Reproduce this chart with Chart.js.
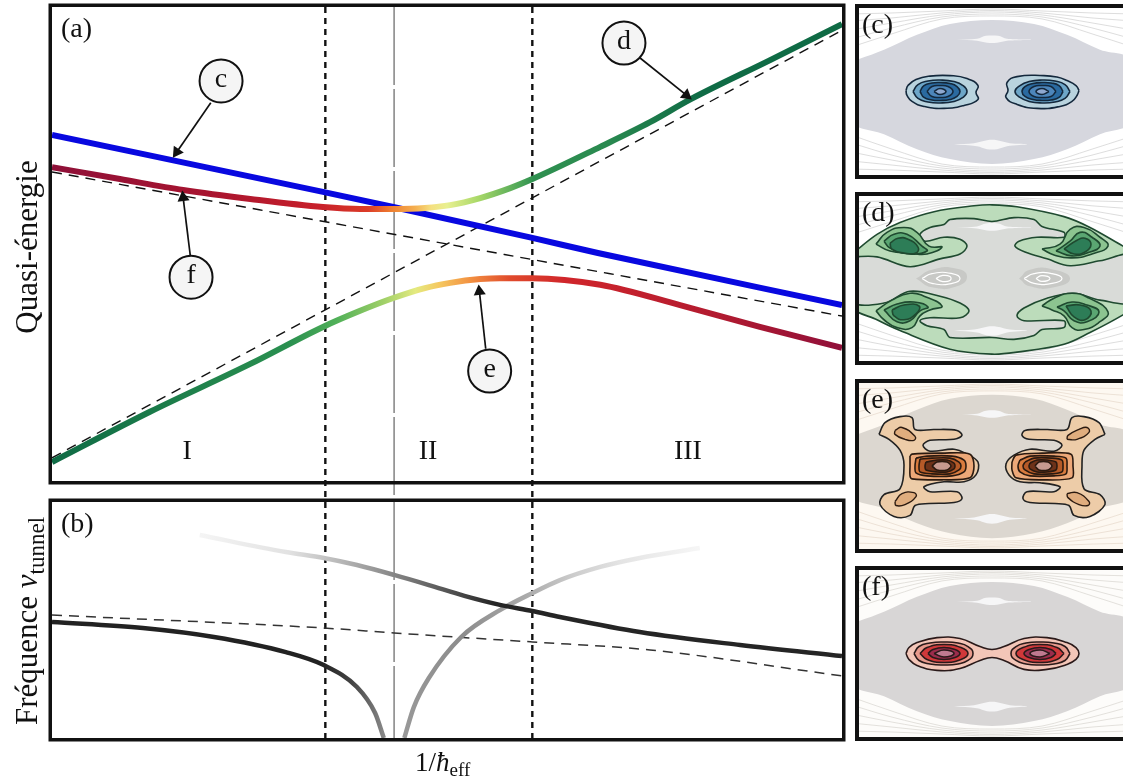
<!DOCTYPE html>
<html lang="fr">
<head>
    <meta charset="UTF-8">
    <title>Quasi-énergie et fréquence tunnel</title>
    <script src="https://cdn.jsdelivr.net/npm/chart.js"></script>
    <style>
        html, body { margin: 0; background: #fff; overflow: hidden; }
        canvas { position: absolute; }
        #chartA { left: 0; top: 0; }
        #chartB { left: 0; top: 490px; }
        #panelC { left: 853px; top: 2px; }
        #panelD { left: 853px; top: 190px; }
        #panelE { left: 853px; top: 377px; }
        #panelF { left: 853px; top: 564px; }
    </style>
</head>
<body>
    <canvas id="chartA" width="853" height="500"></canvas>
    <canvas id="chartB" width="853" height="292"></canvas>
    <canvas id="panelC" width="270" height="178"></canvas>
    <canvas id="panelD" width="270" height="177"></canvas>
    <canvas id="panelE" width="270" height="178"></canvas>
    <canvas id="panelF" width="270" height="179"></canvas>

    <script>
        // Panel (a): 1/hbar on 0-100, quasi-energy on 0-100
        const upperCurve = [[0,66.2],[8.6,63.7],[16.6,61.4],[25.1,59.5],[34.3,57.8],[39,57.4],[43.2,57.4],[47.2,57.6],[50.4,58.2],[54.2,59.7],[58,61.8],[60.8,63.7],[69.4,70.5],[75.7,75.7],[80.8,80.5],[90.9,88.8],[100,96.4]];
        const lowerCurve = [[0,4],[12.4,14.6],[25.1,24.7],[34.3,32.5],[39,35.9],[43.2,38.6],[47.2,40.7],[50.4,41.8],[54.2,42.6],[56.7,42.8],[60.8,42.8],[69.4,41.4],[79.5,37.1],[89.6,32.5],[100,28.1]];
        const blueLine = [[0,73],[34.3,61],[43.2,57.8],[60.8,51.3],[69.1,48.1],[100,37.1]];
        const diabaticDown = [[0,65.2],[100,34.8]];
        const diabaticUp = [[0,4.9],[100,95.1]];
        const regionEdges = [34.6, 60.8];
        const centerLine = 43.3;
        const regionNames = ['I', 'II', 'III'];
        const regionCenters = [17.1, 47.6, 80.5];
        const upperStops = [[0,'#8e1038'],[20,'#a8142f'],[34,'#c8202a'],[40,'#dc3c28'],[43,'#ef7f30'],[46,'#f5b050'],[48,'#f5e080'],[50,'#e8f090'],[54,'#a8d868'],[59,'#50a858'],[61,'#2f9050'],[70,'#2a8a50'],[82,'#0f6b45'],[100,'#0f6b45']];
        const lowerStops = [[0,'#0f6b45'],[30,'#2a9050'],[36,'#50b058'],[42,'#a0d068'],[46,'#e4ea80'],[49,'#f5c860'],[53,'#f29040'],[58,'#e04a2c'],[65,'#d0252b'],[85,'#b01a30'],[100,'#90103a']];

        // callouts: letter, circle centre, arrow tip
        const calloutNames = ['c', 'd', 'e', 'f'];
        const calloutCircles = [[21.4,84.4],[72.4,92.4],[55.4,23.2],[17.6,43.0]];
        const calloutTails = [[20.1,79.8],[74.4,89.3],[54.9,27.9],[17.5,47.6]];
        const calloutTips = [[15.8,69.4],[80.3,81.4],[54.1,40],[16.6,59.8]];

        // Panel (b)
        const leftBranch = [[0,49.2],[11.5,46.6],[20.5,42.8],[29.6,36.4],[34.4,30.9],[38.6,21.6],[40.9,10.6],[42,0]];
        const risingBranch = [[44.6,0],[45.8,13.1],[47.7,25.4],[51.8,42.8],[56.7,54.2],[60.8,61.4],[64.3,66.9],[69.4,72.5],[74.4,76.3],[82,80.5]];
        const fallingBranch = [[18.7,86],[29.6,78.8],[34.4,76.3],[38.6,73.3],[43.3,69.1],[47.7,64.8],[52.2,60.2],[56.7,56.4],[60.8,53.8],[64.3,51.3],[74.4,44.9],[87.1,39.4],[100,34.7]];
        const dashedFrequency = [[0,52.1],[34.4,46.6],[43.3,44.5],[60.8,40.7],[75.7,37.3],[100,26.3]];
        const leftStops = [[0,'#222'],[34,'#222'],[38,'#444'],[41,'#777'],[42,'#888']];
        const risingStops = [[44,'#999'],[52,'#8c8c8c'],[60,'#aaa'],[66,'#ccc'],[72,'#e4e4e4'],[82,'#f6f6f6']];
        const fallingStops = [[18,'#f6f6f6'],[30,'#e2e2e2'],[36,'#bbb'],[43,'#888'],[50,'#555'],[56,'#252525'],[100,'#252525']];

        // Phase-space panels: position and momentum, origin at the centre
        const lens = [[-140,30],[-108,42],[-75,57],[-42,68],[0,72],[42,68],[75,57],[108,42],[140,31],[140,-30],[108,-43],[75,-58],[42,-68],[0,-73],[-42,-68],[-75,-58],[-108,-43],[-140,-30]];
        const wispTop = [[-35,52],[-15,53],[-6,56],[6,56],[15,53],[40,52],[15,51],[5,49],[-5,49],[-15,51]];
        const wispBottom = [[-38,-53],[-18,-52],[-5,-49],[5,-49],[18,-52],[35,-53],[15,-55],[5,-58],[-5,-58],[-15,-55]];
        const orbitsTop = [
            [[-140,45],[-100,58],[-50,73],[0,76],[50,73],[100,58],[140,45]],
            [[-140,53],[-100,64],[-50,75],[0,78],[50,75],[100,64],[140,53]],
            [[-140,62],[-100,69],[-50,77],[0,80],[50,77],[100,69],[140,62]],
            [[-140,71],[-100,74],[-50,79],[0,81.5],[50,79],[100,74],[140,71]],
            [[-140,78],[-100,79],[-50,81],[0,83],[50,81],[100,79],[140,78]]
        ];
        const orbitsBottom = [
            [[-140,-44],[-100,-58],[-50,-73],[0,-76],[50,-73],[100,-58],[140,-45]],
            [[-140,-52],[-100,-64],[-50,-75],[0,-78],[50,-75],[100,-64],[140,-53]],
            [[-140,-61],[-100,-69],[-50,-77],[0,-80],[50,-77],[100,-69],[140,-62]],
            [[-140,-70],[-100,-74],[-50,-79],[0,-81.5],[50,-79],[100,-74],[140,-71]],
            [[-140,-78],[-100,-79],[-50,-81],[0,-83],[50,-81],[100,-79],[140,-78]]
        ];

        // (c) two blue wells, rings from outside to inside
        const cLeft = [
            [[-86,1],[-84,6],[-76,12],[-62,15.5],[-42,16],[-25,13],[-14,6],[-16,-1],[-14,-8],[-28,-14],[-48,-17],[-68,-15],[-80,-10],[-85,-4]],
            [[-79,0],[-74,7],[-64,10.5],[-52,11.5],[-38,10],[-29,6],[-25,0],[-29,-6],[-38,-10],[-52,-11.5],[-64,-10.5],[-74,-7]],
            [[-72,0],[-68,6],[-60,8.5],[-52,9],[-42,8],[-35,5],[-32,0],[-35,-5],[-42,-8],[-52,-9],[-60,-8.5],[-68,-6]],
            [[-65,0],[-60,5],[-52,6],[-44,5],[-39,0],[-44,-5],[-52,-6],[-60,-5]],
            [[-58,0],[-52,3],[-46,0],[-52,-3]]
        ];
        const cRight = [
            [[87,1],[84,6],[75,11],[65,14.5],[52,16],[25,15],[15,9],[16,1],[14,-6],[25,-13],[45,-17],[68,-15],[80,-10],[85,-4]],
            [[78,0],[73,7],[63,10.5],[50,11.5],[37,10],[28,6],[23,0],[28,-6],[37,-10],[50,-11.5],[63,-10.5],[73,-7]],
            [[71,0],[67,6],[59,8.5],[50,9],[41,8],[33,5],[30,0],[33,-5],[41,-8],[50,-9],[59,-8.5],[67,-6]],
            [[64,0],[59,5],[50,6],[42,5],[37,0],[42,-5],[50,-6],[59,-5]],
            [[57,0],[50,3],[44,0],[50,-3]]
        ];
        const cFills = ['#b9d3de', '#6da6c8', '#2a6aa0', '#4d86bb', '#8fa9d0'];

        // (d) green lens with a grey cross inside and four lobes
        const dOuter = [[-140,25],[-115,45],[-92,57],[-58,68],[-18,74],[0,75],[25,73],[72,63],[98,52],[131,33],[140,28],[140,-30],[131,-37],[98,-55],[72,-67],[25,-75],[0,-77],[-42,-72],[-92,-53],[-115,-42],[-140,-28]];
        const dCross = [[-140,22],[-115,22],[-82,12],[-52,20],[-32,25],[-25,33],[-32,40],[-48,42],[-67,38],[-72,45],[-62,52],[-48,55],[-42,60],[-18,61],[0,58],[22,62],[42,60],[50,53],[72,47],[72,42],[45,42],[27,38],[23,33],[33,27],[55,20],[78,13],[108,18],[140,23],[140,-23],[108,-22],[82,-15],[55,-20],[32,-30],[25,-38],[32,-43],[72,-43],[72,-50],[50,-52],[42,-58],[22,-62],[0,-60],[-42,-60],[-48,-52],[-65,-48],[-72,-43],[-62,-40],[-32,-40],[-23,-33],[-32,-25],[-52,-18],[-82,-13],[-108,-25],[-140,-23]];
        const dTopLeft = [
            [[-116,35],[-105,47],[-88,52],[-75,47],[-63,33],[-50,32],[-65,25],[-82,26],[-102,28]],
            [[-108,38],[-98,45],[-85,45],[-70,33],[-65,28],[-82,25],[-102,31]],
            [[-102,36],[-94,41],[-84,40],[-74,32],[-76,26],[-88,26],[-100,30]]
        ];
        const dTopRight = [
            [[50,30],[68,35],[78,50],[92,52],[108,42],[116,33],[100,25],[80,21],[62,24]],
            [[64,28],[78,38],[88,47],[100,42],[108,33],[95,26],[80,23]],
            [[72,30],[85,39],[93,41],[99,35],[93,27],[82,25]]
        ];
        const dBottomLeft = [
            [[-116,-33],[-100,-22],[-82,-15],[-68,-18],[-50,-28],[-62,-32],[-72,-38],[-80,-50],[-95,-50],[-108,-42]],
            [[-108,-32],[-95,-26],[-78,-24],[-64,-29],[-72,-33],[-82,-43],[-95,-44]],
            [[-100,-32],[-88,-27],[-73,-28],[-76,-36],[-88,-42],[-98,-38]]
        ];
        const dBottomRight = [
            [[50,-28],[62,-20],[80,-15],[97,-20],[116,-34],[108,-44],[92,-52],[80,-50],[72,-38],[60,-32]],
            [[65,-29],[80,-24],[95,-27],[107,-34],[95,-44],[82,-43],[72,-33]],
            [[74,-28],[88,-27],[99,-33],[93,-42],[82,-39]]
        ];
        const dFills = ['#8cc490', '#5aa672', '#2d7d57'];
        const dBlobs = [[[-76,0],[-60,9],[-35,10],[-25,2],[-35,-8],[-60,-9]], [[27,0],[38,9],[62,9],[78,0],[62,-9],[38,-8]]];
        const dBlobRings = [
            [[-70,0],[-60,5],[-40,5],[-32,0],[-40,-5],[-60,-5]], [[-56,0],[-50,3],[-42,2],[-42,-2],[-50,-3]],
            [[32,0],[42,5],[60,5],[70,0],[60,-5],[42,-5]], [[44,0],[50,3],[58,0],[50,-3]]
        ];

        // (e) brown butterflies
        const eLeftOutline = [[-113,32],[-107,44],[-92,50],[-80,49],[-77,37],[-58,37],[-35,36],[-30,31],[-38,27],[-62,26],[-69,21],[-62,15],[-38,17],[-25,12],[-14,4],[-16,-9],[-28,-16],[-48,-16],[-68,-21],[-62,-26],[-35,-26],[-30,-33],[-38,-37],[-63,-38],[-77,-40],[-82,-50],[-98,-51],[-112,-39],[-108,-29],[-92,-23],[-88,1],[-92,16],[-103,27]];
        const eRightOutline = [[113,32],[107,44],[92,50],[80,49],[75,37],[55,37],[33,36],[30,31],[37,27],[62,26],[70,21],[62,15],[38,17],[22,11],[14,2],[17,-9],[28,-16],[48,-17],[68,-21],[62,-26],[35,-26],[31,-33],[38,-37],[63,-38],[77,-40],[82,-50],[98,-51],[113,-39],[108,-29],[92,-23],[90,1],[92,16],[103,27]];
        const ePads = [
            [[-97,36],[-90,39],[-77,30],[-78,26],[-87,27],[-97,32]],
            [[75,27],[85,27],[97,34],[95,39],[87,37],[76,31]],
            [[-97,-36],[-90,-28],[-78,-27],[-76,-31],[-87,-39],[-96,-40]],
            [[75,-28],[85,-27],[97,-36],[96,-40],[87,-39],[76,-32]]
        ];
        const eLeft = [
            [[-82,10],[-80,12],[-50,13],[-22,12],[-18,0],[-22,-12],[-50,-14],[-80,-13],[-82,-10],[-82,0]],
            [[-76,8],[-65,10],[-40,10],[-28,6],[-26,0],[-28,-6],[-40,-10],[-65,-10],[-76,-7],[-77,0]],
            [[-72,7],[-60,8],[-42,8],[-33,4],[-31,0],[-33,-4],[-42,-8],[-60,-8],[-72,-6],[-73,0]],
            [[-66,4],[-55,6],[-45,6],[-38,3],[-37,0],[-38,-3],[-45,-6],[-55,-6],[-66,-4],[-67,0]],
            [[-60,0],[-55,4],[-45,4],[-41,0],[-45,-4],[-55,-4]]
        ];
        const eRight = [
            [[20,4],[24,11],[50,13],[79,12],[81,0],[80,-12],[50,-14],[24,-12],[20,-4]],
            [[28,6],[38,10],[62,10],[74,8],[75,0],[74,-8],[62,-10],[38,-10],[28,-6],[26,0]],
            [[33,4],[42,8],[60,8],[70,6],[71,0],[70,-6],[60,-8],[42,-8],[33,-4],[31,0]],
            [[38,3],[45,6],[55,6],[64,4],[65,0],[64,-4],[55,-6],[45,-6],[38,-3],[37,0]],
            [[43,0],[47,4],[56,4],[60,0],[56,-4],[47,-4]]
        ];
        const eFills = ['#eda878', '#d97b3e', '#b55a28', '#6e3219', '#c79a8f'];

        // (f) red dumbbell
        const fOutline = [[-86,0],[-83,6],[-75,11],[-55,16],[-32,15],[-12,7],[0,4],[12,7],[32,15],[55,16],[75,11],[84,6],[87,0],[84,-6],[75,-11],[55,-16],[32,-16],[12,-7],[0,-4],[-12,-7],[-32,-15],[-55,-17],[-75,-12],[-83,-6]];
        const fLeft = [
            [[-78,0],[-73,7],[-62,10.5],[-48,11.5],[-34,10.5],[-24,7],[-19,0],[-24,-7],[-34,-10.5],[-48,-11.5],[-62,-10.5],[-73,-7]],
            [[-72,0],[-65,6],[-48,9],[-31,6],[-24,0],[-31,-6],[-48,-9],[-65,-6]],
            [[-64,0],[-59,4],[-48,6],[-37,4],[-32,0],[-37,-4],[-48,-6],[-59,-4]],
            [[-58,0],[-48,3.5],[-38,0],[-48,-3.5]]
        ];
        const fRight = [
            [[78,0],[73,7],[62,10.5],[48,11.5],[34,10.5],[24,7],[19,0],[24,-7],[34,-10.5],[48,-11.5],[62,-10.5],[73,-7]],
            [[72,0],[65,6],[48,9],[31,6],[24,0],[31,-6],[48,-9],[65,-6]],
            [[64,0],[59,4],[48,6],[37,4],[32,0],[37,-4],[48,-6],[59,-4]],
            [[58,0],[48,3.5],[38,0],[48,-3.5]]
        ];
        const fFills = ['#e89a8c', '#d0383a', '#9c2c4c', '#c07a90'];

        const SERIF = '"Liberation Serif", serif';
        const xy = pts => pts.map(([x, y]) => ({ x, y }));

        // horizontal colour ramp, stops given in x values
        function along(stops) {
            return ctx => {
                const chart = ctx.chart;
                if (!chart.chartArea) return stops[0][1];
                const sx = chart.scales.x;
                const g = chart.ctx.createLinearGradient(sx.left, 0, sx.right, 0);
                stops.forEach(([x, c]) => g.addColorStop((x - sx.min) / (sx.max - sx.min), c));
                return g;
            };
        }

        function curve(pts, color, width, extra) {
            return Object.assign({
                data: xy(pts), showLine: true, borderColor: color, borderWidth: width,
                pointRadius: 0, cubicInterpolationMode: 'monotone', fill: false
            }, extra);
        }

        function ring(pts, fillColor, lineColor, width, tension) {
            return {
                data: xy(pts.concat([pts[0]])), showLine: true, pointRadius: 0, tension: tension || 0.35,
                fill: fillColor ? 'shape' : false, backgroundColor: fillColor || 'transparent',
                borderColor: lineColor || 'transparent', borderWidth: lineColor ? (width || 1.6) : 0
            };
        }

        function wells(rings, fills, line, tension) {
            return rings.map((r, i) => ring(r, fills[i], line, 1.6, tension));
        }

        function background(lensColor, orbitColor) {
            return [
                ring(wispTop, '#f6f6f7'),
                ring(wispBottom, '#f6f6f7'),
                ring(lens, lensColor),
                ...orbitsTop.concat(orbitsBottom).map(o => curve(o, orbitColor, 0.8))
            ];
        }

        // text, frame and paper tint that Chart.js has no option for
        const decorations = {
            id: 'decorations',
            beforeDatasetsDraw(chart, args, opts) {
                if (!opts.paper) return;
                const { ctx, chartArea: a } = chart;
                ctx.fillStyle = opts.paper;
                ctx.fillRect(a.left, a.top, a.width, a.height);
            },
            afterDatasetsDraw(chart, args, opts) {
                const { ctx, chartArea: a } = chart;
                ctx.save();
                ctx.strokeStyle = '#111';
                ctx.lineWidth = opts.frameWidth;
                const o = opts.frameWidth / 2;
                ctx.beginPath();
                if (opts.openRight) {
                    ctx.moveTo(a.right + 5, a.top - o);
                    ctx.lineTo(a.left - o, a.top - o);
                    ctx.lineTo(a.left - o, a.bottom + o);
                    ctx.lineTo(a.right + 5, a.bottom + o);
                } else {
                    ctx.rect(a.left - o, a.top - o, a.width + 2 * o, a.height + 2 * o);
                }
                ctx.stroke();
                ctx.fillStyle = '#111';
                ctx.textBaseline = 'alphabetic';
                ctx.font = '28px ' + SERIF;
                ctx.textAlign = 'left';
                ctx.fillText(opts.label, a.left + opts.labelDx, a.top + opts.labelDy);
                if (opts.after) opts.after(chart, ctx);
                ctx.restore();
            }
        };

        function baseOptions(padding, xRange, yRange, decoration) {
            return {
                responsive: false,
                animation: false,
                events: [],
                layout: { padding, autoPadding: false },
                plugins: { legend: { display: false }, tooltip: { enabled: false }, decorations: decoration },
                scales: {
                    x: { type: 'linear', display: false, min: xRange[0], max: xRange[1] },
                    y: { type: 'linear', display: false, min: yRange[0], max: yRange[1] }
                }
            };
        }

        // first dataset in the array is painted last, so lists run from top layer to bottom layer
        function makeChart(id, layers, options) {
            new Chart(document.getElementById(id), {
                type: 'scatter',
                data: { datasets: layers },
                options,
                plugins: [decorations]
            });
        }

        function guides(bottom) {
            const straight = { clip: false, cubicInterpolationMode: 'default', tension: 0 };
            return [
                ...regionEdges.map(x => curve([[x, 100], [x, bottom]], '#111', 2.4, { borderDash: [6, 5], ...straight })),
                curve([[centerLine, 100], [centerLine, bottom]], '#444', 1, { borderDash: [78, 4], ...straight })
            ];
        }

        function arrow(tail, tip) {
            const angle = ctx => {
                const c = ctx.chart.scales;
                const dx = c.x.getPixelForValue(tip[0]) - c.x.getPixelForValue(tail[0]);
                const dy = c.y.getPixelForValue(tip[1]) - c.y.getPixelForValue(tail[1]);
                return Math.atan2(dy, dx) * 180 / Math.PI + 90;
            };
            return curve([tail, tip], '#111', 1.7, {
                cubicInterpolationMode: 'default', tension: 0, pointStyle: 'triangle', backgroundColor: '#111',
                pointRadius: [0, 7], pointBorderWidth: 0, pointRotation: angle
            });
        }

        function circles() {
            return curve(calloutCircles, 'transparent', 0, {
                showLine: false, pointRadius: 21.5, pointBackgroundColor: '#f5f5f5',
                pointBorderColor: '#111', pointBorderWidth: 2
            });
        }

        makeChart('chartA', [
            circles(),
            ...calloutTips.map((tip, i) => arrow(calloutTails[i], tip)),
            curve(upperCurve, along(upperStops), 6),
            curve(lowerCurve, along(lowerStops), 6),
            curve(blueLine, '#0808e0', 6),
            curve(diabaticDown, '#111', 1.4, { borderDash: [10, 7] }),
            curve(diabaticUp, '#111', 1.4, { borderDash: [10, 7] }),
            ...guides(-4)
        ], baseOptions({ left: 52, right: 11, top: 7, bottom: 19 }, [0, 100], [0, 100], {
            frameWidth: 3.5, label: '(a)', labelDx: 9, labelDy: 30,
            after(chart, ctx) {
                const { x, y } = chart.scales;
                ctx.textAlign = 'center';
                regionNames.forEach((name, i) => ctx.fillText(name, x.getPixelForValue(regionCenters[i]), y.getPixelForValue(4.6)));
                calloutNames.forEach((name, i) => {
                    ctx.fillText(name, x.getPixelForValue(calloutCircles[i][0]), y.getPixelForValue(calloutCircles[i][1]) + 6);
                });
                ctx.save();
                ctx.translate(37, 247);
                ctx.rotate(-Math.PI / 2);
                ctx.font = '31px ' + SERIF;
                ctx.fillText('Quasi-énergie', 0, 0);
                ctx.restore();
            }
        }));

        makeChart('chartB', [
            curve(leftBranch, along(leftStops), 4.5),
            curve(fallingBranch, along(fallingStops), 4.5),
            curve(risingBranch, along(risingStops), 4.5),
            curve(dashedFrequency, '#333', 1.5, { borderDash: [10, 7] }),
            ...guides(0)
        ], baseOptions({ left: 52, right: 11, top: 12, bottom: 44 }, [0, 100], [0, 100], {
            frameWidth: 3.5, label: '(b)', labelDx: 9, labelDy: 30,
            after(chart, ctx) {
                // mixed fonts with subscript, so text is placed piece by piece
                ctx.save();
                ctx.translate(37, 235);
                ctx.rotate(-Math.PI / 2);
                ctx.textAlign = 'left';
                ctx.font = '31px ' + SERIF;
                let w = 0;
                ctx.fillText('Fréquence ', w, 0);
                w += ctx.measureText('Fréquence ').width;
                ctx.font = 'italic 31px ' + SERIF;
                ctx.fillText('ν', w, 0);
                w += ctx.measureText('ν').width;
                ctx.font = '23px ' + SERIF;
                ctx.fillText('tunnel', w, 7);
                ctx.restore();

                ctx.textAlign = 'left';
                ctx.font = '27px ' + SERIF;
                let x = 415;
                ctx.fillText('1/', x, 281);
                x += ctx.measureText('1/').width;
                ctx.font = 'italic 27px ' + SERIF;
                ctx.fillText('ħ', x, 281);
                x += ctx.measureText('ħ').width;
                ctx.font = '19px ' + SERIF;
                ctx.fillText('eff', x, 286);
            }
        }));

        const panelRange = { x: [-133, 131], y: [-84, 84] };
        function panelDecor(label, paper) {
            return { frameWidth: 4, openRight: true, label, labelDx: 3, labelDy: 25, paper };
        }

        makeChart('panelC', [
            ...wells(cLeft, cFills, '#14283c', 0.5).reverse(),
            ...wells(cRight, cFills, '#14283c', 0.5).reverse(),
            ...background('#d6d7de', '#d4d4d4')
        ], baseOptions({ left: 6, right: 0, top: 6, bottom: 5 }, panelRange.x, panelRange.y, panelDecor('(c)', '#ffffff')));

        makeChart('panelD', [
            ...dBlobRings.map(r => ring(r, null, '#ffffff', 1.2, 0.55)),
            ...dBlobs.map(b => ring(b, '#c8c9c6', null, 0, 0.55)),
            ...wells(dTopLeft, dFills, '#1f4a30', 0.5).reverse(),
            ...wells(dTopRight, dFills, '#1f4a30', 0.5).reverse(),
            ...wells(dBottomLeft, dFills, '#1f4a30', 0.5).reverse(),
            ...wells(dBottomRight, dFills, '#1f4a30', 0.5).reverse(),
            ring(wispTop, '#f6f6f7'),
            ring(wispBottom, '#f6f6f7'),
            ring(dCross, '#d9dbd8', '#1f4a30'),
            ring(dOuter, '#bcdcbb', '#1f4a30'),
            ...orbitsTop.concat(orbitsBottom).map(o => curve(o, '#d4d4d4', 0.8))
        ], baseOptions({ left: 6, right: 0, top: 6, bottom: 6 }, panelRange.x, panelRange.y, panelDecor('(d)', '#ffffff')));

        makeChart('panelE', [
            ...wells(eLeft, eFills, '#2b1a10', 0.3).reverse(),
            ...wells(eRight, eFills, '#2b1a10', 0.3).reverse(),
            ...ePads.map(p => ring(p, '#e0ad7e', '#2b1a10', 1.4, 0.5)),
            ring(eLeftOutline, '#edcca8', '#222'),
            ring(eRightOutline, '#edcca8', '#222'),
            ...background('#dcd7d0', '#e8dccf')
        ], baseOptions({ left: 6, right: 0, top: 6, bottom: 6 }, panelRange.x, panelRange.y, panelDecor('(e)', '#fdf8f1')));

        makeChart('panelF', [
            ...wells(fLeft, fFills, '#2a1a1a', 0.5).reverse(),
            ...wells(fRight, fFills, '#2a1a1a', 0.5).reverse(),
            ring(fOutline, '#f3c6b8', '#2a1a1a', 1.6, 0.45),
            ...background('#d8d6d6', '#dcd9d4')
        ], baseOptions({ left: 6, right: 0, top: 6, bottom: 6 }, panelRange.x, panelRange.y, panelDecor('(f)', '#fdfcfa')));
    </script>
</body>
</html>
